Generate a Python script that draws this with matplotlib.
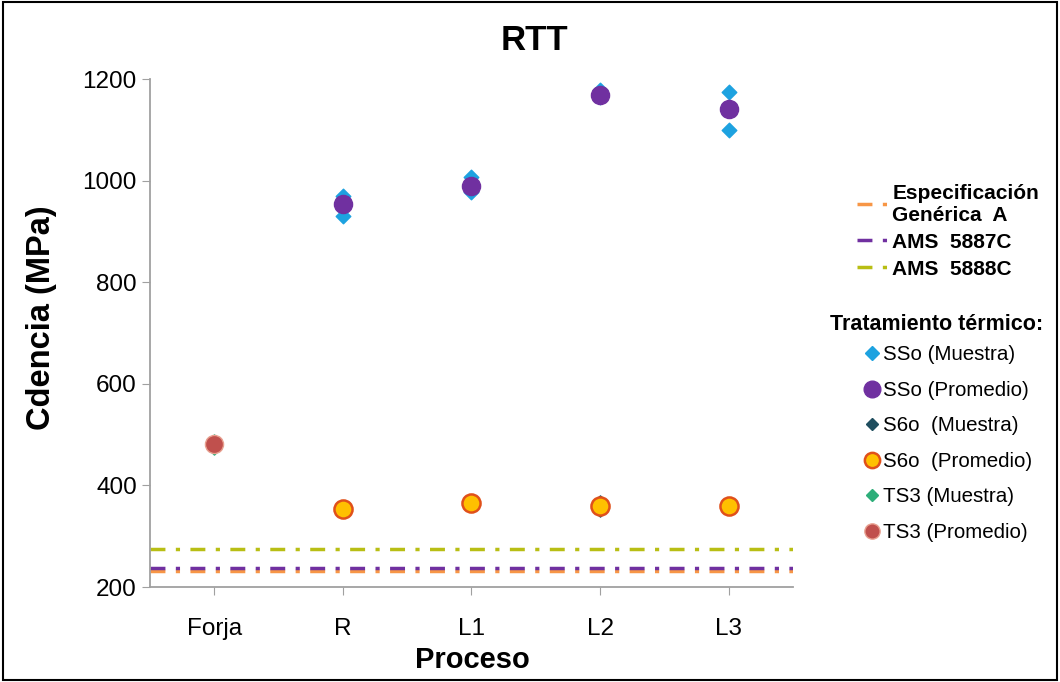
import matplotlib.pyplot as plt
from matplotlib.lines import Line2D
from matplotlib.patches import Rectangle

plt.rcParams['font.family'] = ['Liberation Sans', 'DejaVu Sans']

procesos = ["Forja", "R", "L1", "L2", "L3"]

# SSo: muestras (2 per proceso) y promedio, on R..L3
sso_x = [2, 2, 3, 3, 4, 4, 5, 5]
sso_muestra = [970, 930, 1008, 978, 1178, 1165, 1175, 1100]
sso_prom_x = [2, 3, 4, 5]
sso_promedio = [953, 990, 1168, 1140]

# S6o
s6o_x = [2, 2, 3, 3, 4, 4, 5, 5]
s6o_muestra = [355, 352, 366, 364, 368, 352, 360, 359]
s6o_prom_x = [2, 3, 4, 5]
s6o_promedio = [353, 365, 360, 360]

# TS3 (Forja)
ts3_x = [1, 1]
ts3_muestra = [488, 474]
ts3_prom_x = [1]
ts3_promedio = [481]

# especificaciones
esp_generica_a = 232
ams_5887c = 237
ams_5888c = 275

W, H = 1060, 682
fig = plt.figure(figsize=(W / 100, H / 100), dpi=100)
ax = fig.add_axes([150/W, 1 - 587/H, (793-150)/W, (587-79)/H])

dash = (0, (4.3, 3, 1.2, 3))
lw = 2.5
ax.axhline(esp_generica_a, color='#F79646', lw=lw, linestyle=dash, zorder=1)
ax.axhline(ams_5887c, color='#7030A0', lw=lw, linestyle=dash, zorder=1)
ax.axhline(ams_5888c, color='#B8BE14', lw=lw, linestyle=dash, zorder=1)

ax.scatter(sso_x, sso_muestra, marker='D', s=55, color='#1DA2E0', zorder=3)
ax.scatter(sso_prom_x, sso_promedio, marker='o', s=170, color='#7030A0', zorder=4)
ax.scatter(s6o_x, s6o_muestra, marker='D', s=45, color='#1F4E5F', zorder=3)
ax.scatter(s6o_prom_x, s6o_promedio, marker='o', s=170, facecolor='#FFC000',
           edgecolor='#E0501A', linewidth=1.8, zorder=4)
ax.scatter(ts3_x, ts3_muestra, marker='D', s=45, color='#2EAE7A', zorder=3)
ax.scatter(ts3_prom_x, ts3_promedio, marker='o', s=170, facecolor='#C0504D',
           edgecolor='#E8A090', linewidth=1, zorder=4)

ax.set_xlim(0.5, 5.5)
ax.set_ylim(200, 1200)
ax.set_xticks(range(1, 6))
ax.set_xticklabels(procesos)
ax.set_yticks(range(200, 1201, 200))
ax.tick_params(axis='both', labelsize=17.5, color='#A0A0A0', length=6)
ax.tick_params(axis='x', pad=16)
for s in ['top', 'right']:
    ax.spines[s].set_visible(False)
for s in ['left', 'bottom']:
    ax.spines[s].set_color('#A0A0A0')
    ax.spines[s].set_linewidth(1.3)

fig.text(534/W, 1 - 40/H, "RTT", fontsize=25, fontweight='bold', ha='center', va='center')
fig.text(472/W, 1 - 660/H, "Proceso", fontsize=21, fontweight='bold', ha='center', va='center')
fig.text(42/W, 1 - 318/H, "Cdencia (MPa)", fontsize=23.5, fontweight='bold',
         rotation=90, ha='center', va='center')

# legend 1: especificaciones
line_handles = [
    Line2D([], [], color='#F79646', lw=lw, linestyle=dash),
    Line2D([], [], color='#7030A0', lw=lw, linestyle=dash),
    Line2D([], [], color='#B8BE14', lw=lw, linestyle=dash),
]
fig.legend(line_handles, ["Especificación\nGenérica  A", "AMS  5887C", "AMS  5888C"],
           loc='upper left', bbox_to_anchor=(838/W, 1 - 165/H),
           frameon=False, handlelength=1.5, handletextpad=0.2,
           labelspacing=0.38, prop={'size': 15, 'weight': 'bold'})

# legend 2: tratamiento termico
fig.text(830/W, 1 - 325/H, "Tratamiento térmico:", fontsize=15.5, fontweight='bold',
         ha='left', va='center')
mk_handles = [
    Line2D([], [], marker='D', ls='', ms=7, color='#1DA2E0'),
    Line2D([], [], marker='o', ls='', ms=12, color='#7030A0'),
    Line2D([], [], marker='D', ls='', ms=6, color='#1F4E5F'),
    Line2D([], [], marker='o', ls='', ms=11, markerfacecolor='#FFC000',
           markeredgecolor='#E0501A', markeredgewidth=1.8),
    Line2D([], [], marker='D', ls='', ms=6, color='#2EAE7A'),
    Line2D([], [], marker='o', ls='', ms=11, markerfacecolor='#C0504D',
           markeredgecolor='#E8A090'),
]
mk_labels = ["SSo (Muestra)", "SSo (Promedio)", "S6o  (Muestra)",
             "S6o  (Promedio)", "TS3 (Muestra)", "TS3 (Promedio)"]
fig.legend(mk_handles, mk_labels, loc='upper left',
           bbox_to_anchor=(845/W, 1 - 327/H), frameon=False,
           handlelength=0.8, handletextpad=0.15, labelspacing=0.8,
           prop={'size': 14.8})

fig.patches.append(Rectangle((0.003, 0.003), 0.994, 0.994, transform=fig.transFigure,
                             fill=False, edgecolor='black', linewidth=1.5))

fig.savefig("out.png", dpi=100)
